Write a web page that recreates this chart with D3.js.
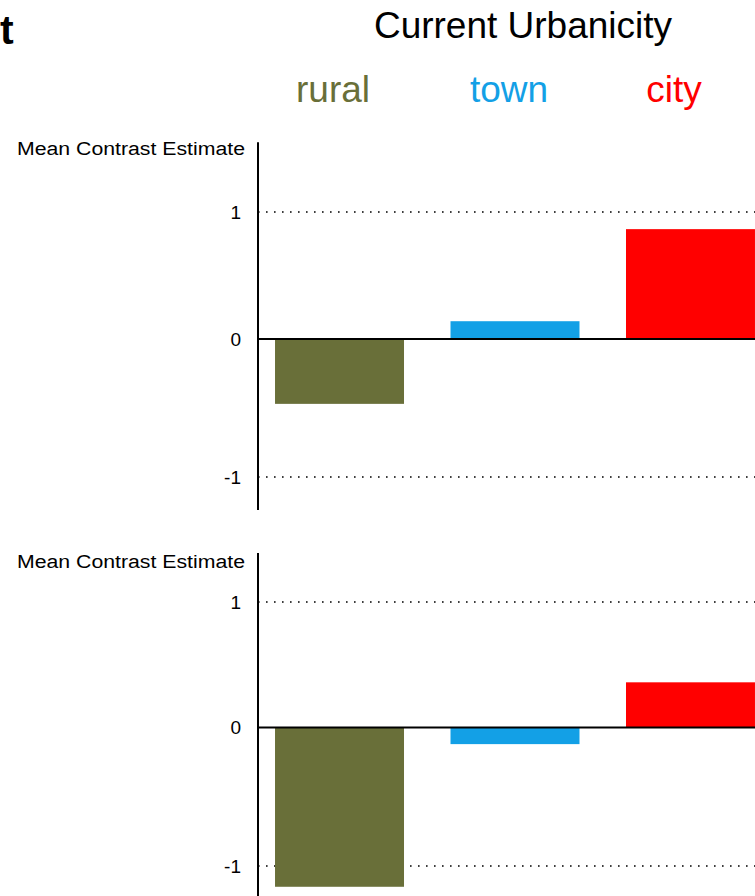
<!DOCTYPE html>
<html><head><meta charset="utf-8">
<script src="https://cdn.jsdelivr.net/npm/d3@7"></script>
<style>body{margin:0;background:#fff;}svg{display:block;font-family:"Liberation Sans",Arial,sans-serif;}</style>
</head><body>
<svg id="c" width="755" height="896"></svg>
<script>
const categories = ["rural", "town", "city"];
const colors = ["#696f39", "#13a0e6", "#ff0000"];
const panel1Values = [-0.47, 0.14, 0.865];
const panel2Values = [-1.15, -0.12, 0.36];
const tickValues = [-1, 0, 1];
const tickLabels = ["-1", "0", "1"];
const gridValues = [-1, 1];
const title = "Current Urbanicity";
const yLabel = "Mean Contrast Estimate";
const panelLetter = "t";

const svg = d3.select("#c");
const W = 755;
const axisX = 258;

const x = d3.scaleBand().domain(categories).range([axisX, 772]).paddingInner(0.265).paddingOuter(0.097);
const color = d3.scaleOrdinal().domain(categories).range(colors);

svg.append("text").attr("x", 0).attr("y", 44).attr("font-size", 41).attr("font-weight", "bold").text(panelLetter);
svg.append("text").attr("x", 523).attr("y", 38).attr("text-anchor", "middle").attr("font-size", 37).attr("fill", "#000").text(title);

const legendX = {rural: 333, town: 509, city: 674};
svg.selectAll("text.leg").data(categories).join("text").attr("class", "leg")
  .attr("x", d => legendX[d]).attr("y", 102).attr("text-anchor", "middle")
  .attr("font-size", 37).attr("fill", d => color(d)).text(d => d);

const panels = [
  {values: panel1Values, yr: [477, 339, 212], top: 1.55, bottom: -1.24, labelY: 155},
  {values: panel2Values, yr: [866, 727.5, 602], top: 1.39, bottom: -1.3, labelY: 568}
];

panels.forEach(p => {
  const y = d3.scaleLinear().domain(tickValues).range(p.yr);
  const g = svg.append("g");
  g.selectAll("line.grid").data(gridValues).join("line")
    .attr("x1", axisX).attr("x2", W).attr("y1", d => y(d)).attr("y2", d => y(d))
    .attr("stroke", "#000").attr("stroke-width", 1.6).attr("stroke-dasharray", "1.6,6.4");
  g.selectAll("rect").data(categories.map((c, i) => ({c, v: p.values[i]}))).join("rect")
    .attr("x", d => x(d.c)).attr("width", x.bandwidth())
    .attr("y", d => Math.min(y(0), y(d.v))).attr("height", d => Math.abs(y(d.v) - y(0)))
    .attr("fill", d => color(d.c));
  g.append("line").attr("x1", axisX).attr("x2", W).attr("y1", y(0)).attr("y2", y(0))
    .attr("stroke", "#000").attr("stroke-width", 2);
  const ax = g.append("g").attr("transform", `translate(${axisX},0)`)
    .call(d3.axisLeft(y).tickValues(tickValues).tickSize(0).tickPadding(17)
      .tickFormat(d => tickLabels[tickValues.indexOf(d)]));
  ax.select(".domain").remove();
  ax.attr("font-size", 19).attr("font-family", "Liberation Sans, Arial, sans-serif");
  ax.selectAll("text").attr("fill", "#000");
  g.append("line").attr("x1", axisX).attr("x2", axisX).attr("y1", y(p.top)).attr("y2", y(p.bottom))
    .attr("stroke", "#000").attr("stroke-width", 2);
  g.append("text").attr("x", 17).attr("y", p.labelY).attr("font-size", 18)
    .attr("textLength", 228).attr("lengthAdjust", "spacingAndGlyphs").text(yLabel);
});
</script>
</body></html>
